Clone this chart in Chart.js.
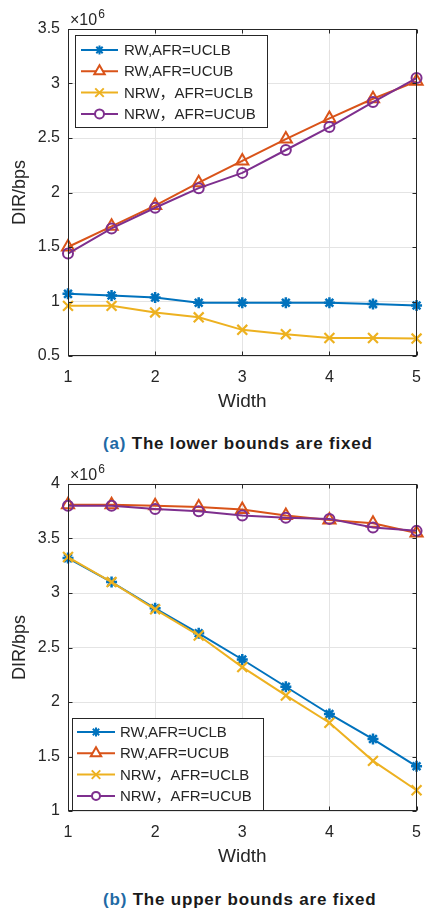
<!DOCTYPE html>
<html>
<head>
<meta charset="utf-8">
<script src="https://cdn.jsdelivr.net/npm/chart.js@4.4.1/dist/chart.umd.min.js"></script>
<style>
  html, body { margin: 0; padding: 0; background: #fff; overflow: hidden; }
  .panel { position: absolute; left: 0; width: 433px; height: 420px; }
  .cap { position: absolute; left: 103px; font: bold 17px "Liberation Sans", Arial, sans-serif;
         letter-spacing: 0.8px; color: #1a1a1a; white-space: nowrap; line-height: 20px; }
  .cap span { color: #1f6aa5; }
</style>
</head>
<body>
<div class="panel" style="top:0"><canvas id="chartA" width="433" height="420"></canvas></div>
<div class="cap" style="top:434px"><span>(a)</span> The lower bounds are fixed</div>
<div class="panel" style="top:455px"><canvas id="chartB" width="433" height="420"></canvas></div>
<div class="cap" style="top:890px"><span>(b)</span> The upper bounds are fixed</div>
<script>
// x values (Width)
var widths = [1, 1.5, 2, 2.5, 3, 3.5, 4, 4.5, 5];
var seriesNames = ['RW,AFR=UCLB', 'RW,AFR=UCUB', 'NRW，AFR=UCLB', 'NRW，AFR=UCUB'];

// (a) lower bounds fixed, DIR in 10^6 bps
var rwUclbA  = [1.07, 1.055, 1.036, 0.988, 0.988, 0.988, 0.988, 0.976, 0.964];
var rwUcubA  = [1.50, 1.69, 1.88, 2.09, 2.29, 2.49, 2.68, 2.86, 3.02];
var nrwUclbA = [0.96, 0.96, 0.90, 0.855, 0.74, 0.70, 0.665, 0.665, 0.66];
var nrwUcubA = [1.44, 1.67, 1.86, 2.04, 2.18, 2.39, 2.60, 2.83, 3.05];

// (b) upper bounds fixed
var rwUclbB  = [3.32, 3.10, 2.86, 2.63, 2.39, 2.14, 1.89, 1.66, 1.41];
var rwUcubB  = [3.81, 3.81, 3.80, 3.79, 3.765, 3.71, 3.67, 3.64, 3.55];
var nrwUclbB = [3.33, 3.10, 2.85, 2.61, 2.32, 2.06, 1.81, 1.46, 1.19];
var nrwUcubB = [3.80, 3.80, 3.77, 3.75, 3.71, 3.69, 3.68, 3.60, 3.57];

var colors = ['#0072BD', '#D95319', '#EDB120', '#7E2F8E'];
var markers = ['star', 'triangle', 'crossRot', 'circle'];
var markerSize = [5.5, 7, 7, 5];
var markerLine = [2.5, 2, 2.2, 2];
var textColor = '#262626';
var fontName = '"Liberation Sans", Arial, "Noto Sans CJK SC", sans-serif';

function makeDatasets(seriesList) {
    return seriesList.map(function (vals, k) {
        return {
            label: seriesNames[k],
            data: widths.map(function (w, i) { return { x: w, y: vals[i] }; }),
            borderColor: colors[k],
            backgroundColor: 'rgba(0,0,0,0)',
            borderWidth: 2,
            pointStyle: markers[k],
            pointRadius: markerSize[k],
            pointBorderWidth: markerLine[k],
            pointBorderColor: colors[k],
            pointBackgroundColor: 'rgba(0,0,0,0)',
            tension: 0,
            clip: false,
            order: 4 - k
        };
    });
}

// axes box, inward ticks, x10^6 label and the boxed legend
var matlabFrame = {
    id: 'matlabFrame',
    afterDraw: function (chart, args, opts) {
        var ctx = chart.ctx;
        var a = chart.chartArea;
        var xs = chart.scales.x, ys = chart.scales.y;
        ctx.save();
        ctx.strokeStyle = textColor;
        ctx.lineWidth = 1;
        var L = Math.round(a.left) + 0.5, R = Math.round(a.right) - 0.5;
        var T = Math.round(a.top) + 0.5, B = Math.round(a.bottom) - 0.5;
        ctx.strokeRect(L, T, R - L, B - T);
        ctx.beginPath();
        xs.ticks.forEach(function (t) {
            var px = Math.round(xs.getPixelForValue(t.value)) + 0.5;
            ctx.moveTo(px, B); ctx.lineTo(px, B - 4);
            ctx.moveTo(px, T); ctx.lineTo(px, T + 4);
        });
        ys.ticks.forEach(function (t) {
            var py = Math.round(ys.getPixelForValue(t.value)) + 0.5;
            ctx.moveTo(L, py); ctx.lineTo(L + 4, py);
            ctx.moveTo(R, py); ctx.lineTo(R - 4, py);
        });
        ctx.stroke();

        // exponent label
        ctx.fillStyle = textColor;
        ctx.textBaseline = 'alphabetic';
        ctx.textAlign = 'left';
        ctx.font = '16px ' + fontName;
        ctx.fillText('×10', a.left + 2, a.top - 4.5);
        var w = ctx.measureText('×10').width;
        ctx.font = '12px ' + fontName;
        ctx.fillText('6', a.left + 3 + w, a.top - 11.5);

        // legend
        var lx = a.left + opts.dx, ly = opts.fromBottom ? a.bottom - opts.h - 1 : a.top + opts.dy;
        ctx.fillStyle = '#ffffff';
        ctx.fillRect(lx, ly, opts.w, opts.h);
        ctx.strokeStyle = textColor;
        ctx.lineWidth = 1;
        ctx.strokeRect(Math.round(lx) + 0.5, Math.round(ly) + 0.5, opts.w, opts.h);
        chart.data.datasets.forEach(function (ds, k) {
            var y = ly + opts.first + k * opts.step;
            ctx.strokeStyle = ds.borderColor;
            ctx.lineWidth = 2;
            ctx.beginPath();
            ctx.moveTo(lx + opts.line0, y);
            ctx.lineTo(lx + opts.line1, y);
            ctx.stroke();
            ctx.fillStyle = '#ffffff';
            if (Chart.helpers && Chart.helpers.drawPoint) {
                Chart.helpers.drawPoint(ctx, {
                    pointStyle: ds.pointStyle,
                    radius: opts.radius[k],
                    rotation: 0,
                    borderWidth: 2
                }, lx + (opts.line0 + opts.line1) / 2, y);
            }
            ctx.fillStyle = textColor;
            ctx.font = '15px ' + fontName;
            ctx.textBaseline = 'middle';
            ctx.fillText(ds.label, lx + opts.text, y + 1);
        });
        ctx.restore();
    }
};

function buildChart(id, seriesList, yMin, yMax, legendOpts) {
    return new Chart(document.getElementById(id).getContext('2d'), {
        type: 'line',
        data: { datasets: makeDatasets(seriesList) },
        options: {
            responsive: false,
            animation: false,
            layout: { padding: { top: 29, right: 6, left: 0, bottom: 0 } },
            plugins: {
                legend: { display: false },
                tooltip: { enabled: false },
                matlabFrame: legendOpts
            },
            scales: {
                x: {
                    type: 'linear',
                    min: 1, max: 5,
                    afterFit: function (s) { s.height = 64; },
                    ticks: { stepSize: 1, color: textColor, padding: 12,
                             font: { family: fontName, size: 16 } },
                    grid: { color: '#e4e4e4', drawTicks: false },
                    border: { display: false },
                    title: { display: true, text: 'Width', color: textColor,
                             font: { family: fontName, size: 19 }, padding: { top: 0, bottom: 7 } }
                },
                y: {
                    min: yMin, max: yMax,
                    afterFit: function (s) { s.width = 68; },
                    ticks: { stepSize: 0.5, color: textColor, padding: 8,
                             font: { family: fontName, size: 16 },
                             callback: function (v) { return String(v); } },
                    grid: { color: '#e4e4e4', drawTicks: false },
                    border: { display: false },
                    title: { display: true, text: 'DIR/bps', color: textColor,
                             font: { family: fontName, size: 18 }, padding: { top: 9, bottom: 0 } }
                }
            }
        },
        plugins: [matlabFrame]
    });
}

buildChart('chartA', [rwUclbA, rwUcubA, nrwUclbA, nrwUcubA], 0.5, 3.5, {
    dx: 7, dy: 6, w: 192, h: 92, first: 15, step: 21.3,
    line0: 6, line1: 43, text: 49, radius: [4.5, 6, 6, 4.5]
});
buildChart('chartB', [rwUclbB, rwUcubB, nrwUclbB, nrwUcubB], 1, 4, {
    dx: 4, fromBottom: true, w: 191, h: 92, first: 14, step: 21.3,
    line0: 5, line1: 43, text: 48, radius: [4.5, 6, 6, 4]
});
</script>
</body>
</html>
